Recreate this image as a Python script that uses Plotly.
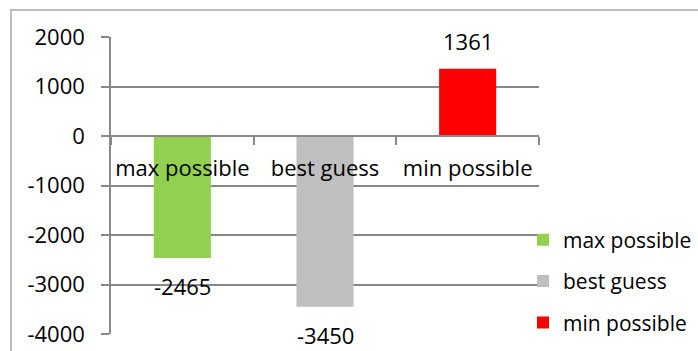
import plotly.graph_objects as go

# Scenario outcomes
categories = ["max possible", "best guess", "min possible"]
values = [-2465, -3450, 1361]
colors = ["#92D050", "#BFBFBF", "#FF0000"]

y_ticks = [-4000, -3000, -2000, -1000, 0, 1000, 2000]
y_tick_text = [str(v) for v in y_ticks]  # plain hyphen minus signs

FONT = "Open Sans"
GRID = "#888888"

fig = go.Figure()
for cat, val, col in zip(categories, values, colors):
    fig.add_trace(go.Bar(
        x=[cat], y=[val], name=cat, legendgroup=cat,
        marker=dict(color=col, line=dict(width=0)),
        width=0.4,
    ))

# value labels just beyond each bar's end
for cat, val in zip(categories, values):
    fig.add_annotation(
        x=cat, y=val, text=str(val), showarrow=False,
        yanchor="middle", yshift=28 if val > 0 else -28,
        font=dict(family=FONT, size=22, color="black"),
    )

# outer chart frame
fig.add_shape(
    type="rect", xref="paper", yref="paper",
    x0=(11 - 111) / 428, x1=1.5, y0=-0.3, y1=1 + (37 - 10) / 297,
    line=dict(color="#BDBDBD", width=2), fillcolor="rgba(0,0,0,0)", layer="below",
)

fig.update_layout(
    width=698, height=351,
    margin=dict(l=111, r=159, t=37, b=17, autoexpand=False),
    paper_bgcolor="white", plot_bgcolor="white",
    barmode="overlay",
    font=dict(family=FONT, size=22, color="black"),
    showlegend=True,
    legend=dict(
        x=1.0 - 16 / 428, xanchor="left", y=0.375 + 3 / 297, yanchor="top",
        font=dict(family=FONT, size=21, color="black"),
        traceorder="grouped", tracegroupgap=11,
        itemwidth=30, bgcolor="rgba(0,0,0,0)",
    ),
    xaxis=dict(
        type="category", range=[-0.5, 2.5],
        anchor="free", position=4000 / 6000,
        showline=True, linecolor=GRID, linewidth=1.5,
        ticks="outside", tickson="boundaries", ticklen=8, tickcolor=GRID, tickwidth=1.5,
        ticklabelposition="outside", ticklabelstandoff=13, tickangle=0, automargin=False,
        showgrid=False, zeroline=False,
        tickfont=dict(family=FONT, size=22, color="black"),
    ),
    yaxis=dict(
        range=[-4000, 2000], tickvals=y_ticks, ticktext=y_tick_text,
        showline=True, linecolor=GRID, linewidth=1.5,
        ticks="outside", ticklen=8, tickcolor=GRID, tickwidth=1.5,
        ticklabelstandoff=12, automargin=False,
        showgrid=True, gridcolor=GRID, gridwidth=1.5, zeroline=False,
        tickfont=dict(family=FONT, size=22, color="black"),
    ),
)

fig.write_html("out.html")
